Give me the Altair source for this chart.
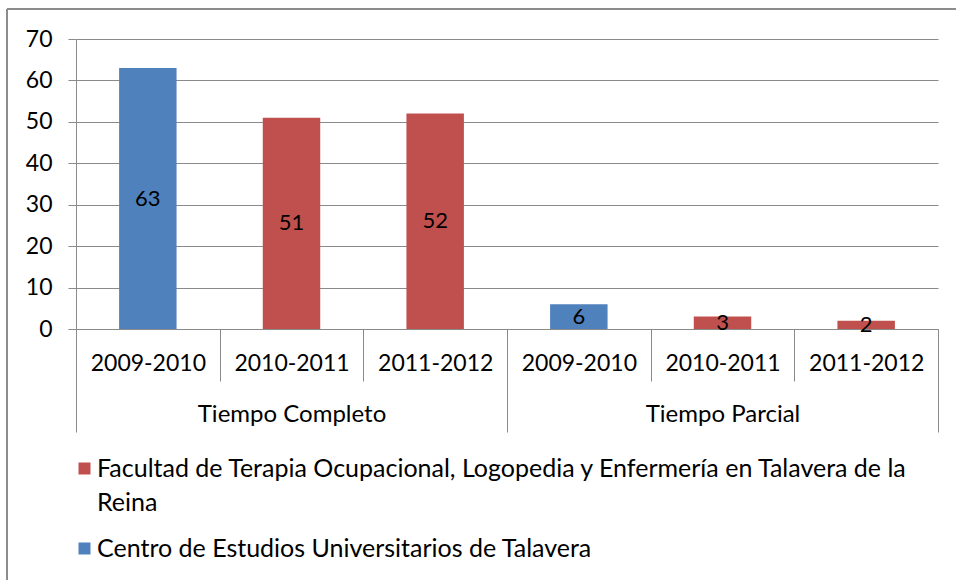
import altair as alt
import pandas as pd

FONT = "Lato"

groups = ["Tiempo Completo", "Tiempo Completo", "Tiempo Completo",
          "Tiempo Parcial", "Tiempo Parcial", "Tiempo Parcial"]
periods = ["2009-2010", "2010-2011", "2011-2012",
           "2009-2010", "2010-2011", "2011-2012"]
values = [63, 51, 52, 6, 3, 2]
FAC = "Facultad de Terapia Ocupacional, Logopedia y Enfermería en Talavera de la Reina"
CEN = "Centro de Estudios Universitarios de Talavera"
centers = [CEN, FAC, FAC, CEN, FAC, FAC]
legend_order = [FAC, CEN]
legend_colors = ["#C0504D", "#4F81BD"]
y_ticks = [0, 10, 20, 30, 40, 50, 60, 70]

df = pd.DataFrame({
    "group": groups,
    "period": periods,
    "value": values,
    "center": centers,
})
df["key"] = df["group"] + "|" + df["period"]
df["mid"] = df["value"] / 2

key_order = list(df["key"])
GRID = "#8a8a8a"

x_bar = alt.X(
    "key:N",
    sort=key_order,
    scale=alt.Scale(paddingInner=0, paddingOuter=0),
    axis=alt.Axis(
        title=None,
        orient="bottom",
        labelExpr="split(datum.label, '|')[1]",
        labelAngle=0,
        tickBand="extent",
        tickSize=52,
        tickColor=GRID,
        domainColor=GRID,
        labelPadding=-18,
        labelBaseline="middle",
        labelFont=FONT,
        labelFontSize=23,
        labelColor="black",
        labelLimit=400,
        grid=False,
    ),
)

y_enc = alt.Y(
    "value:Q",
    scale=alt.Scale(domain=[0, 70], nice=False),
    axis=alt.Axis(
        title=None,
        values=y_ticks,
        grid=True,
        gridColor=GRID,
        domainColor=GRID,
        tickColor=GRID,
        tickSize=8,
        labelPadding=16,
        labelFont=FONT,
        labelFontSize=23,
        labelColor="black",
    ),
)

legend_expr = (
    "datum.label == '" + FAC + "' ? "
    "['Facultad de Terapia Ocupacional, Logopedia y Enfermería en Talavera de la', 'Reina'] : datum.label"
)

bars = alt.Chart(df).mark_bar(width={"band": 0.4}).encode(
    x=x_bar,
    y=y_enc,
    color=alt.Color(
        "center:N",
        scale=alt.Scale(domain=legend_order, range=legend_colors),
        legend=alt.Legend(
            title=None,
            orient="none",
            legendX=-4,
            legendY=417,
            direction="vertical",
            symbolType="square",
            symbolSize=144,
            symbolStrokeWidth=0,
            labelFont=FONT,
            labelFontSize=25,
            labelColor="black",
            labelLimit=1000,
            labelOffset=0,
            labelExpr=legend_expr,
            rowPadding=20,
        ),
    ),
)

labels = alt.Chart(df).mark_text(font=FONT, fontSize=22, color="black").encode(
    x=alt.X("key:N", sort=key_order),
    y=alt.Y("mid:Q"),
    text=alt.Text("value:Q"),
)

inner = alt.layer(bars, labels)

group_df = pd.DataFrame({"group": ["Tiempo Completo", "Tiempo Parcial"]})
group_layer = alt.Chart(group_df).mark_rule(opacity=0).encode(
    x=alt.X(
        "group:N",
        scale=alt.Scale(paddingInner=0, paddingOuter=0),
        axis=alt.Axis(
            title=None,
            orient="bottom",
            labelAngle=0,
            tickBand="extent",
            tickSize=103,
            tickColor=GRID,
            domain=False,
            labelPadding=-18,
            labelBaseline="middle",
            labelFont=FONT,
            labelFontSize=24,
            labelColor="black",
            labelLimit=400,
            grid=False,
        ),
    ),
)

border_top = alt.Chart(group_df).mark_rule(color="#8c8c8c", strokeWidth=2).encode(
    x=alt.value(-69), x2=alt.value(900), y=alt.value(-30)
)
border_left = alt.Chart(group_df).mark_rule(color="#8c8c8c", strokeWidth=2).encode(
    x=alt.value(-69), y=alt.value(-30), y2=alt.value(560)
)

chart = alt.layer(inner, group_layer, border_top, border_left).resolve_scale(
    x="independent"
).properties(
    width=862,
    height=290,
    autosize=alt.AutoSizeParams(type="none"),
    padding={"left": 76, "top": 39, "right": 18, "bottom": 251},
    background="white",
).configure(
    style={"guide-label": {"lineHeight": 34}}
).configure_view(stroke=None)

chart.save("out.html", embed_options={"renderer": "svg", "actions": False})
